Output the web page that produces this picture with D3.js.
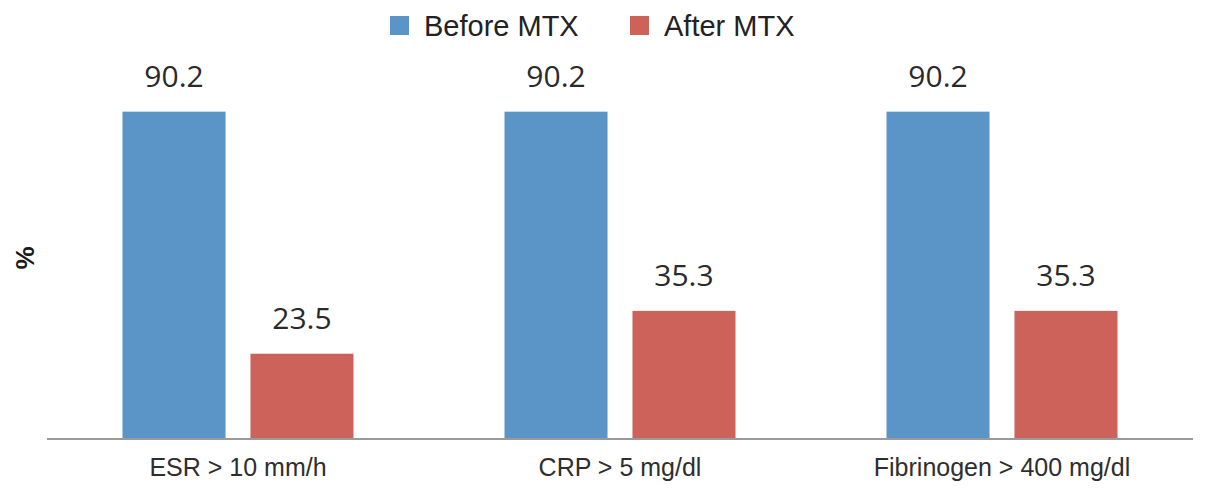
<!DOCTYPE html>
<html><head><meta charset="utf-8">
<script src="https://cdn.jsdelivr.net/npm/d3@7"></script>
<style>html,body{margin:0;padding:0;background:#fff}</style>
</head><body>
<svg id="chart" width="1205" height="501"></svg>
<script>
const categories = ["ESR > 10 mm/h", "CRP > 5 mg/dl", "Fibrinogen > 400 mg/dl"];
const seriesNames = ["Before MTX", "After MTX"];
const beforeValues = [90.2, 90.2, 90.2];
const afterValues = [23.5, 35.3, 35.3];
const colors = ["#5b95c8", "#cc625a"];

const svg = d3.select("#chart");
const left = 47, right = 1193, base = 439;
const x0 = d3.scaleBand().domain(categories).range([left, right]).padding(0);
const x1 = d3.scaleBand().domain(seriesNames).range([0, x0.bandwidth()]).paddingInner(0.195).paddingOuter(0.59);
const y = d3.scaleLinear().domain([0, 100]).range([base, base - 362.9]);
const color = d3.scaleOrdinal().domain(seriesNames).range(colors);

const data = categories.map((c, i) => ({cat: c, vals: [
  {s: seriesNames[0], v: beforeValues[i]},
  {s: seriesNames[1], v: afterValues[i]}]}));

const g = svg.selectAll("g.grp").data(data).enter().append("g")
  .attr("transform", d => `translate(${x0(d.cat)},0)`);
g.selectAll("rect").data(d => d.vals).enter().append("rect")
  .attr("x", d => x1(d.s)).attr("width", x1.bandwidth())
  .attr("y", d => y(d.v)).attr("height", d => y(0) - y(d.v))
  .attr("fill", d => color(d.s));
g.selectAll("text.val").data(d => d.vals).enter().append("text")
  .attr("class", "val")
  .attr("x", d => x1(d.s) + x1.bandwidth() / 2)
  .attr("y", d => y(d.v) - 25)
  .attr("text-anchor", "middle")
  .attr("font-family", "'Open Sans', sans-serif").attr("font-size", 30)
  .attr("fill", "#2a2a2a")
  .text(d => d.v.toFixed(1));

// x axis
const xAxis = d3.axisBottom(x0).tickSize(0).tickPadding(0);
const ax = svg.append("g").attr("transform", `translate(0,${base})`).call(xAxis);
ax.select(".domain").attr("stroke", "#9a9a9a").attr("stroke-width", 2)
  .attr("d", `M${left},0H${right}`);
ax.selectAll(".tick text").attr("dy", 0).attr("y", 37)
  .attr("font-family", "'Liberation Sans', Arial, sans-serif").attr("font-size", 25)
  .attr("fill", "#2e2e2e");

// y label
svg.append("text").attr("transform", "translate(34,258) rotate(-90)")
  .attr("text-anchor", "middle")
  .attr("font-family", "'Liberation Sans', Arial, sans-serif").attr("font-size", 26)
  .attr("font-weight", "bold").attr("fill", "#1a1a1a").text("%");

// legend
const legX = [390, 630];
const lg = svg.selectAll("g.leg").data(seriesNames).enter().append("g")
  .attr("transform", (d, i) => `translate(${legX[i]},0)`);
lg.append("rect").attr("x", 0).attr("y", 16).attr("width", 19).attr("height", 19)
  .attr("fill", d => color(d));
lg.append("text").attr("x", 34).attr("y", 36)
  .attr("font-family", "'Liberation Sans', Arial, sans-serif").attr("font-size", 29)
  .attr("fill", "#222").text(d => d);
</script>
</body></html>
